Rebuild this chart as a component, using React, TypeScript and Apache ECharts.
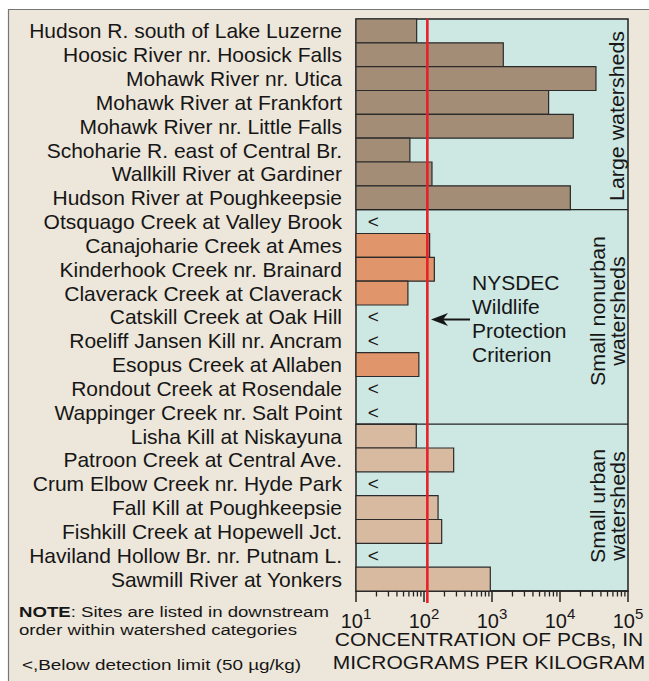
import React, { useEffect, useRef } from "react";
import * as echarts from "echarts";

// ---------- data ----------
const largeSites = [
  "Hudson R. south of Lake Luzerne",
  "Hoosic River nr. Hoosick Falls",
  "Mohawk River nr. Utica",
  "Mohawk River at Frankfort",
  "Mohawk River nr. Little Falls",
  "Schoharie R. east of Central Br.",
  "Wallkill River at Gardiner",
  "Hudson River at Poughkeepsie",
];
const largeValues: (number | null)[] = [78, 1466, 33800, 6800, 15700, 62, 131, 14200];

const nonurbanSites = [
  "Otsquago Creek at Valley Brook",
  "Canajoharie Creek at Ames",
  "Kinderhook Creek nr. Brainard",
  "Claverack Creek at Claverack",
  "Catskill Creek at Oak Hill",
  "Roeliff Jansen Kill nr. Ancram",
  "Esopus Creek at Allaben",
  "Rondout Creek at Rosendale",
  "Wappinger Creek nr. Salt Point",
];
const nonurbanValues: (number | null)[] = [null, 121, 142, 58, null, null, 84, null, null];

const urbanSites = [
  "Lisha Kill at Niskayuna",
  "Patroon Creek at Central Ave.",
  "Crum Elbow Creek nr. Hyde Park",
  "Fall Kill at Poughkeepsie",
  "Fishkill Creek at Hopewell Jct.",
  "Haviland Hollow Br. nr. Putnam L.",
  "Sawmill River at Yonkers",
];
const urbanValues: (number | null)[] = [77, 273, null, 161, 182, null, 944];

const criterionValue = 112; // NYSDEC wildlife protection criterion, µg/kg
const majorTicks = [10, 100, 1000, 10000, 100000];
const minorMultipliers = [2, 3, 4, 5, 6, 7, 8, 9];

// ---------- styling ----------
const FONT = "'Liberation Sans', Arial, Helvetica, sans-serif";
const AXIS_MIN = 10;
const AXIS_MAX = 100000;
const LT_POS = 18; // x position (in data units) of the "<" marker
const COLORS = ["#a48d76", "#e0966a", "#d8baa1"];
const PLOT_BG = "#cde7e2";
const OUTER_BG = "#ede6da";
const INK = "#161616";

const allSites = [...largeSites, ...nonurbanSites, ...urbanSites];
const groupStarts = [largeSites.length, largeSites.length + nonurbanSites.length];

function toBarData(values: (number | null)[], offset: number) {
  const out: number[][] = [];
  values.forEach((v, i) => {
    if (v !== null) out.push([v, i + offset]);
  });
  return out;
}
function toBelowData(values: (number | null)[], offset: number) {
  const out: number[][] = [];
  values.forEach((v, i) => {
    if (v === null) out.push([LT_POS, i + offset]);
  });
  return out;
}

const groupValues = [largeValues, nonurbanValues, urbanValues];
const offsets = [0, largeSites.length, largeSites.length + nonurbanSites.length];

const minorTicks: number[] = [];
majorTicks.slice(0, -1).forEach((d) => minorMultipliers.forEach((m) => minorTicks.push(d * m)));

export default function App() {
  const ref = useRef<HTMLDivElement>(null);

  useEffect(() => {
    if (!ref.current) return;
    const chart = echarts.init(ref.current, null, { renderer: "svg" });

    const barSeries = groupValues.map((vals, g) => ({
      type: "custom",
      name: "group" + g,
      coordinateSystem: "cartesian2d",
      encode: { x: 0, y: 1 },
      data: toBarData(vals, offsets[g]),
      z: 3,
      renderItem: (params: any, api: any) => {
        const v = api.value(0);
        const i = api.value(1);
        const end = api.coord([v, i]);
        const start = api.coord([AXIS_MIN, i]);
        const h = api.size([1, 1], [AXIS_MIN, i])[1];
        return {
          type: "rect",
          shape: { x: start[0], y: end[1] - h / 2, width: end[0] - start[0], height: h },
          style: { fill: COLORS[g], stroke: "#2b2b2b", lineWidth: 1.2 },
        };
      },
    }));

    const belowData = groupValues.flatMap((vals, g) => toBelowData(vals, offsets[g]));

    const option: any = {
      animation: false,
      backgroundColor: OUTER_BG,
      grid: {
        left: 356,
        top: 19,
        width: 272,
        height: 572,
        containLabel: false,
        show: true,
        backgroundColor: PLOT_BG,
        borderColor: "#222",
        borderWidth: 1.5,
      },
      xAxis: {
        type: "log",
        logBase: 10,
        min: AXIS_MIN,
        max: AXIS_MAX,
        axisLine: { show: true, lineStyle: { color: "#222", width: 1.5 } },
        axisTick: { show: true, length: 11, inside: false, lineStyle: { color: "#222", width: 1.5 } },
        splitLine: { show: false },
        minorTick: { show: false },
        axisLabel: {
          margin: 15,
          color: INK,
          fontFamily: FONT,
          formatter: (v: number) => `{b|10}{s|${Math.round(Math.log10(v))}}`,
          rich: {
            b: { fontSize: 20, fontFamily: FONT, color: INK },
            s: { fontSize: 15, fontFamily: FONT, color: INK, padding: [0, 0, 14, 0] },
          },
        },
      },
      yAxis: {
        type: "category",
        inverse: true,
        data: allSites,
        axisLine: { show: false },
        axisTick: { show: false },
        splitLine: { show: false },
        axisLabel: { interval: 0, fontSize: 21, fontFamily: FONT, color: INK, margin: 14 },
      },
      series: [
        ...barSeries,
        {
          type: "custom",
          name: "below",
          coordinateSystem: "cartesian2d",
          encode: { x: 0, y: 1 },
          data: belowData,
          z: 4,
          renderItem: (params: any, api: any) => {
            const p = api.coord([api.value(0), api.value(1)]);
            return {
              type: "text",
              style: {
                text: "<",
                x: p[0],
                y: p[1],
                align: "center",
                verticalAlign: "middle",
                fontSize: 19,
                fontFamily: FONT,
                fill: INK,
              },
            };
          },
        },
        {
          type: "custom",
          name: "separators",
          coordinateSystem: "cartesian2d",
          encode: { x: 0, y: 1 },
          data: groupStarts.map((s) => [AXIS_MIN, s]),
          z: 5,
          renderItem: (params: any, api: any) => {
            const cs = params.coordSys;
            const p = api.coord([AXIS_MIN, api.value(1)]);
            const h = api.size([1, 1], [AXIS_MIN, api.value(1)])[1];
            const y = p[1] - h / 2;
            return {
              type: "line",
              shape: { x1: cs.x, y1: y, x2: cs.x + cs.width, y2: y },
              style: { stroke: "#222", lineWidth: 1.3 },
            };
          },
        },
        {
          type: "custom",
          name: "minorTicks",
          coordinateSystem: "cartesian2d",
          encode: { x: 0, y: 1 },
          data: minorTicks.map((t) => [t, 0]),
          z: 5,
          renderItem: (params: any, api: any) => {
            const cs = params.coordSys;
            const x = api.coord([api.value(0), 0])[0];
            const yb = cs.y + cs.height;
            return {
              type: "line",
              shape: { x1: x, y1: yb, x2: x, y2: yb + 5.5 },
              style: { stroke: "#222", lineWidth: 1.3 },
            };
          },
        },
        {
          type: "custom",
          name: "criterion",
          coordinateSystem: "cartesian2d",
          encode: { x: 0, y: 1 },
          data: [[criterionValue, 0]],
          z: 6,
          renderItem: (params: any, api: any) => {
            const cs = params.coordSys;
            const x = api.coord([api.value(0), 0])[0];
            return {
              type: "line",
              shape: { x1: x, y1: cs.y, x2: x, y2: cs.y + cs.height + 12 },
              style: { stroke: "#e8202a", lineWidth: 2.6 },
            };
          },
        },
      ],
      graphic: [
        // white page margin and the box border
        { type: "rect", shape: { x: 0, y: 0, width: 649, height: 9 }, style: { fill: "#fff" }, silent: true },
        { type: "rect", shape: { x: 0, y: 0, width: 8, height: 681 }, style: { fill: "#fff" }, silent: true },
        { type: "line", shape: { x1: 8, y1: 9.5, x2: 649, y2: 9.5 }, style: { stroke: "#777", lineWidth: 1.2 } },
        { type: "line", shape: { x1: 8.5, y1: 9, x2: 8.5, y2: 681 }, style: { stroke: "#777", lineWidth: 1.2 } },
        // group labels
        {
          type: "text",
          x: 617,
          y: 116,
          rotation: Math.PI / 2,
          scaleX: 1.07,
          style: { text: "Large watersheds", fontSize: 20, fontFamily: FONT, fill: INK, align: "center", verticalAlign: "middle" },
          z: 10,
        },
        {
          type: "text",
          x: 608,
          y: 311,
          rotation: Math.PI / 2,
          scaleX: 1.07,
          style: {
            text: "Small nonurban\nwatersheds",
            fontSize: 20,
            lineHeight: 20,
            fontFamily: FONT,
            fill: INK,
            align: "center",
            verticalAlign: "middle",
          },
          z: 10,
        },
        {
          type: "text",
          x: 608,
          y: 506,
          rotation: Math.PI / 2,
          scaleX: 1.07,
          style: {
            text: "Small urban\nwatersheds",
            fontSize: 20,
            lineHeight: 20,
            fontFamily: FONT,
            fill: INK,
            align: "center",
            verticalAlign: "middle",
          },
          z: 10,
        },
        // criterion annotation
        {
          type: "text",
          x: 472,
          y: 318.5,
          style: {
            text: "NYSDEC\nWildlife\nProtection\nCriterion",
            fontSize: 21,
            lineHeight: 23.7,
            fontFamily: FONT,
            fill: INK,
            align: "left",
            verticalAlign: "middle",
          },
          z: 10,
        },
        { type: "line", shape: { x1: 442, y1: 319.5, x2: 470, y2: 319.5 }, style: { stroke: INK, lineWidth: 2 }, z: 10 },
        {
          type: "polygon",
          shape: { points: [[431, 319.5], [448, 313], [443, 319.5], [448, 326]] },
          style: { fill: INK },
          z: 10,
        },
        // x-axis title
        {
          type: "text",
          x: 489,
          y: 651.5,
          scaleX: 1.2,
          style: {
            text: "CONCENTRATION OF PCBs, IN\nMICROGRAMS PER KILOGRAM",
            fontSize: 17.5,
            lineHeight: 22.5,
            fontFamily: FONT,
            fill: INK,
            align: "center",
            verticalAlign: "middle",
          },
          z: 10,
        },
        // notes
        {
          type: "text",
          x: 19,
          y: 603,
          scaleX: 1.2,
          style: {
            text: "{b|NOTE}{n|: Sites are listed in downstream}\n{n|order within watershed categories}",
            fontFamily: FONT,
            fill: INK,
            rich: {
              b: { fontSize: 15.5, fontWeight: "bold", fontFamily: FONT, fill: INK, lineHeight: 18 },
              n: { fontSize: 15.5, fontFamily: FONT, fill: INK, lineHeight: 18 },
            },
          },
          z: 10,
        },
        {
          type: "text",
          x: 22,
          y: 665,
          scaleX: 1.22,
          style: {
            text: "<,Below detection limit (50 µg/kg)",
            fontSize: 15.5,
            fontFamily: FONT,
            fill: INK,
            verticalAlign: "middle",
          },
          z: 10,
        },
      ],
    };

    chart.setOption(option);
    return () => chart.dispose();
  }, []);

  return (
    <div
      ref={ref}
      style={{ position: "fixed", left: 0, top: 0, width: 649, height: 681 }}
    />
  );
}
